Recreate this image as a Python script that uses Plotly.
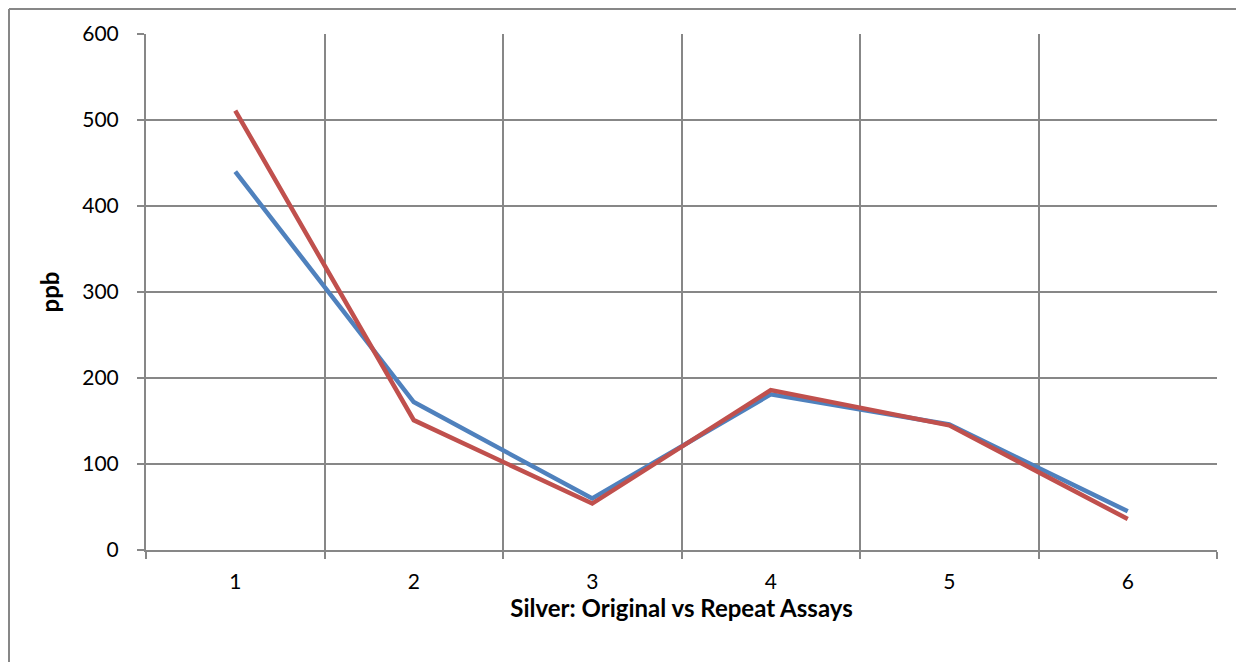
import plotly.graph_objects as go

categories = [1, 2, 3, 4, 5, 6]
original = [440, 172, 60, 181, 146, 45]
repeat = [511, 151, 54, 186, 145, 36]
y_ticks = [0, 100, 200, 300, 400, 500, 600]

# page body has an 8px margin; figure sized to fit inside the window
OFF = 8
W, H = 1244 - 2 * OFF, 670 - 2 * OFF
L, R, T, B = 146 - OFF, 1244 - OFF - 1217, 34 - OFF, 670 - OFF - 550
pw = W - L - R
ph = H - T - B

grid = "#878787"
font = "Lato, 'Open Sans', sans-serif"

fig = go.Figure()
fig.add_trace(go.Scatter(x=categories, y=original, mode="lines",
                         line=dict(color="#4F81BD", width=4.5), name="Original"))
fig.add_trace(go.Scatter(x=categories, y=repeat, mode="lines",
                         line=dict(color="#C0504D", width=4.5), name="Repeat"))

bounds = [c - 0.5 for c in categories] + [categories[-1] + 0.5]

fig.update_layout(
    width=W, height=H,
    margin=dict(l=L, r=R, t=T, b=B),
    paper_bgcolor="white", plot_bgcolor="white",
    showlegend=False,
    font=dict(family=font, size=21, color="black"),
    xaxis=dict(
        range=[bounds[0], bounds[-1]],
        tickvals=categories, ticktext=[str(c) for c in categories],
        showgrid=False, ticks="", zeroline=False,
        showline=True, linecolor=grid, linewidth=2,
        ticklabelstandoff=12,
        minor=dict(tickvals=bounds, showgrid=True, gridcolor=grid, gridwidth=2,
                   ticks="outside", ticklen=7, tickcolor=grid, tickwidth=2),
        title=dict(text="<b>Silver: Original vs Repeat Assays</b>",
                   font=dict(size=24), standoff=3),
        fixedrange=True,
    ),
    yaxis=dict(
        range=[0, 600], tickvals=y_ticks,
        showgrid=True, gridcolor=grid, gridwidth=2,
        zeroline=False, showline=True, linecolor=grid, linewidth=2,
        ticks="outside", ticklen=7, tickcolor=grid, tickwidth=2,
        ticklabelstandoff=14,
        title=dict(text="<b>ppb</b>", font=dict(size=24), standoff=16),
        fixedrange=True,
    ),
)

# outer chart border (top and left edges visible)
bx0 = 1 / pw * (-L + 1)
by1 = 1 + (T - 1) / ph
fig.add_shape(type="line", xref="paper", yref="paper", x0=bx0, x1=(W + 5 - L) / pw,
              y0=by1, y1=by1, line=dict(color=grid, width=2))
fig.add_shape(type="line", xref="paper", yref="paper", x0=bx0, x1=bx0,
              y0=by1, y1=-(B + 5) / ph, line=dict(color=grid, width=2))

fig.write_html("out.html")
